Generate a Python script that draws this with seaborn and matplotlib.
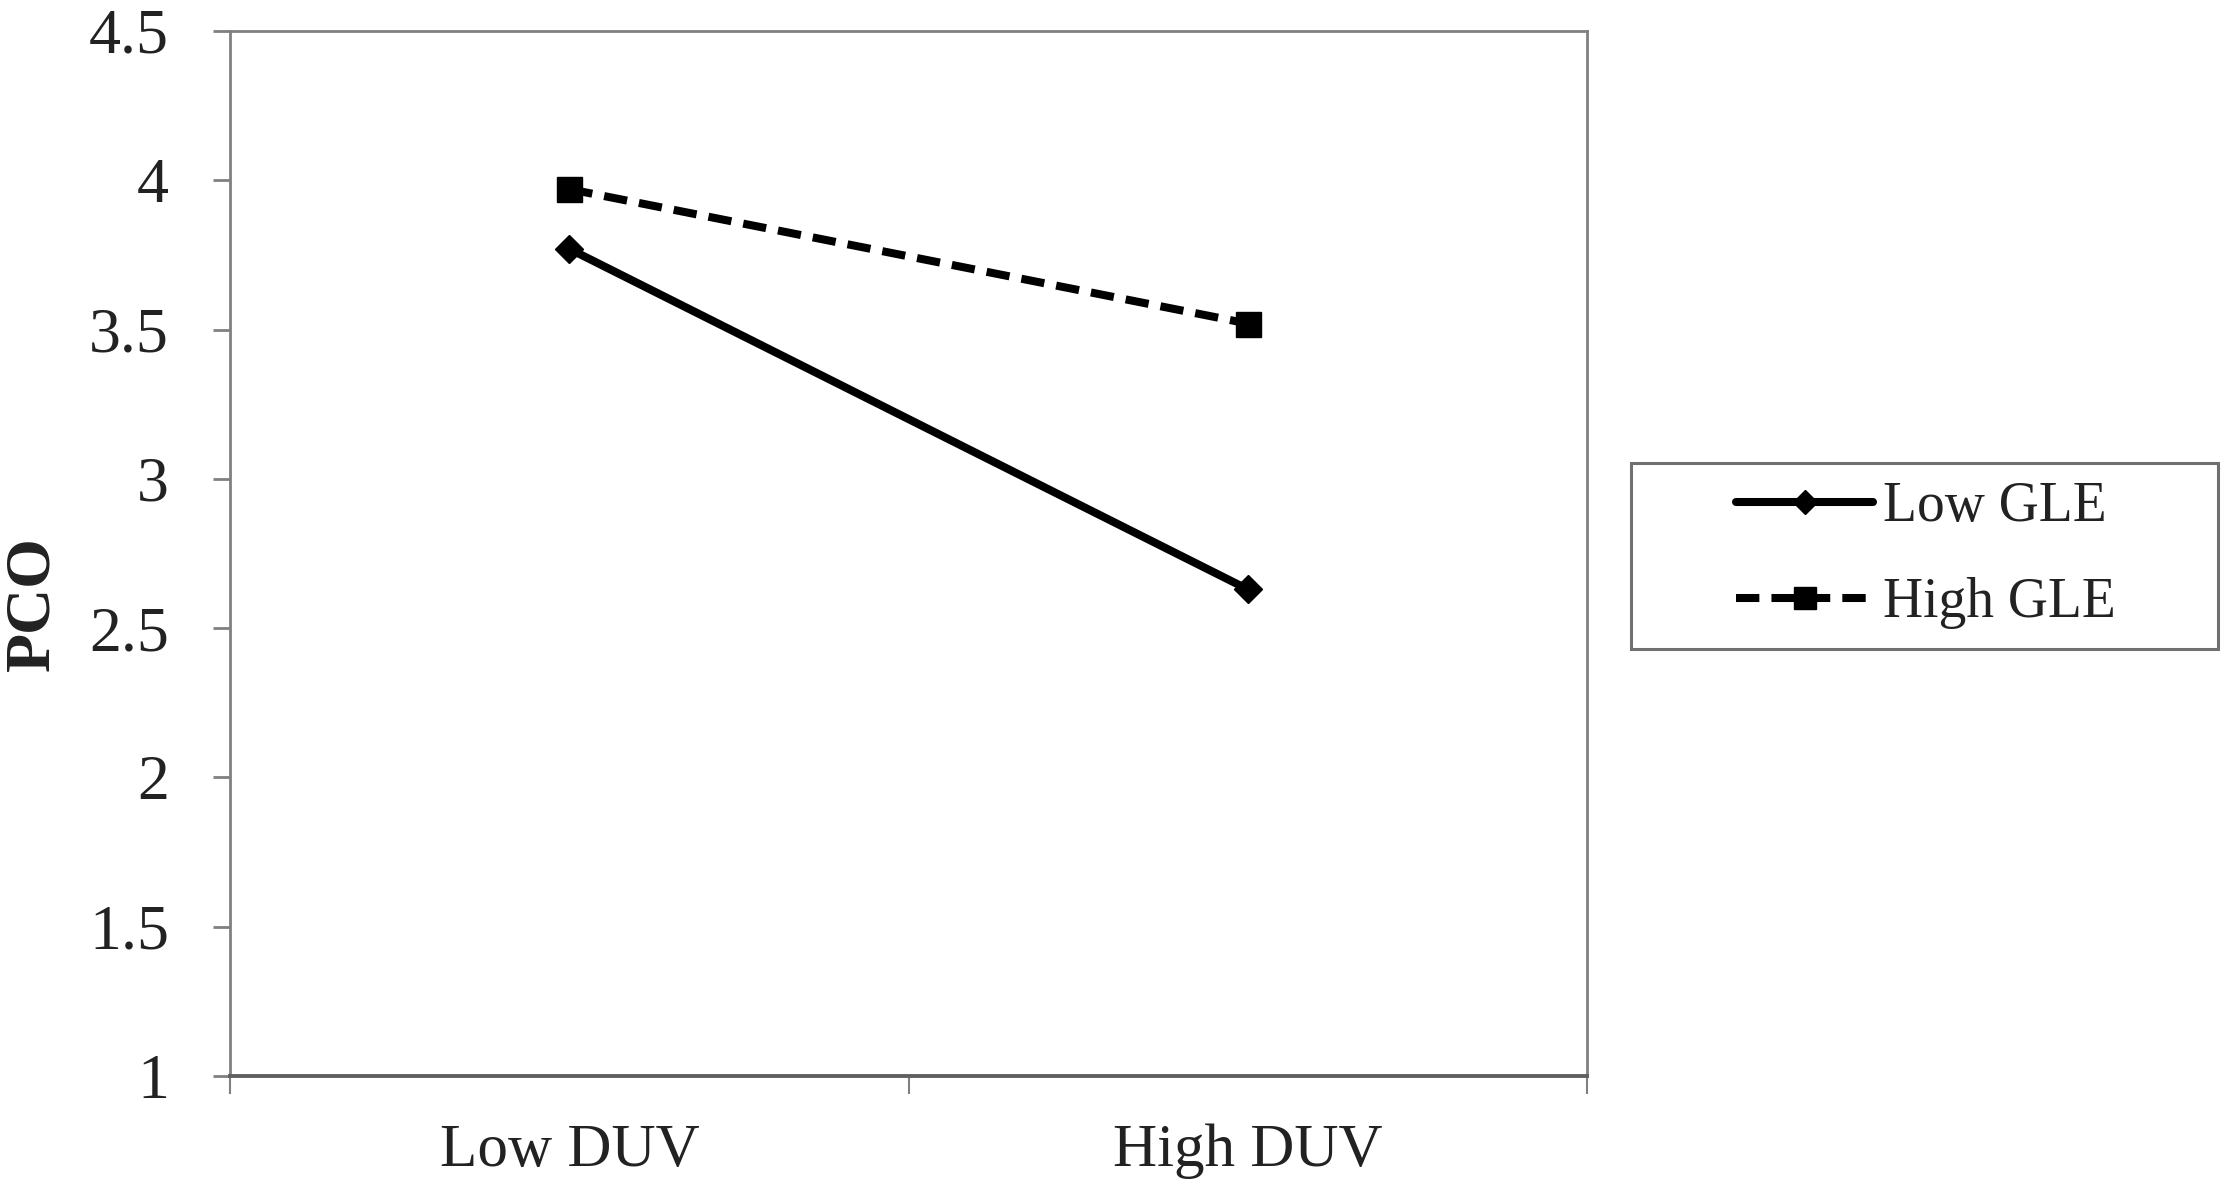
import matplotlib
matplotlib.use("Agg")
import matplotlib.pyplot as plt
from matplotlib.patches import Rectangle
from matplotlib.ticker import FixedLocator
import seaborn as sns
import pandas as pd

# ---- data ----
duv_levels = ["Low DUV", "High DUV"]
gle_groups = ["Low GLE", "High GLE"]
low_gle = [3.77, 2.63]
high_gle = [3.97, 3.52]
y_ticks = [1, 1.5, 2, 2.5, 3, 3.5, 4, 4.5]
y_tick_labels = ["1", "1.5", "2", "2.5", "3", "3.5", "4", "4.5"]

df = pd.DataFrame({
    "DUV": duv_levels * 2,
    "GLE": [gle_groups[0]] * 2 + [gle_groups[1]] * 2,
    "PCO": low_gle + high_gle,
})

sns.set_theme(style="white")
plt.rcParams["font.family"] = ["Liberation Serif", "DejaVu Serif"]

fig = plt.figure(figsize=(22.28, 11.89), dpi=100)
ax = fig.add_axes([0.1033, 0.095, 0.609, 0.879])

sns.lineplot(
    data=df, x="DUV", y="PCO", hue="GLE", style="GLE",
    hue_order=gle_groups, style_order=gle_groups,
    palette={"Low GLE": "black", "High GLE": "black"},
    markers={"Low GLE": "D", "High GLE": "s"},
    dashes={"Low GLE": "", "High GLE": (2.9, 1.5)},
    linewidth=5.8, markeredgecolor="black", markeredgewidth=1,
    ax=ax, legend=True,
)

for ln in ax.lines:
    if ln.get_marker() == "D":
        ln.set_markersize(14)
    elif ln.get_marker() == "s":
        ln.set_markersize(18)

ax.set_xlim(-0.5, 1.5)
ax.set_ylim(1, 4.5)
ax.set_yticks(y_ticks)
ax.set_yticklabels(y_tick_labels)
ax.set_xticks([0, 1])
ax.set_xticklabels(duv_levels)
ax.xaxis.set_minor_locator(FixedLocator([-0.5, 0.5, 1.5]))

ax.tick_params(axis="y", which="major", direction="out", length=12, width=2,
               color="#808080", pad=32, labelsize=46, left=True)
ax.tick_params(axis="x", which="major", length=0, pad=34, labelsize=44, bottom=True)
ax.tick_params(axis="x", which="minor", direction="out", length=13, width=1.5,
               color="#808080", bottom=True)
for lab in ax.get_xticklabels() + ax.get_yticklabels():
    lab.set_color("#222222")

for side, sp in ax.spines.items():
    sp.set_visible(True)
    sp.set_color("#808080")
    sp.set_linewidth(2)
ax.spines["bottom"].set_linewidth(2.8)
ax.spines["bottom"].set_color("#606060")

ax.set_xlabel("")
ax.set_ylabel("PCO", fontsize=46, fontweight="bold", color="#222222", va="center")
ax.yaxis.set_label_coords(-0.145, 0.452)

# legend
handles, labels = ax.get_legend_handles_labels()
ax.get_legend().remove()
leg = fig.legend(handles, labels, loc="center", bbox_to_anchor=(0.8645, 0.533),
                 frameon=False, fontsize=40, handlelength=2.47, handletextpad=0.18,
                 labelspacing=0.8, numpoints=1, borderpad=0)
for t in leg.get_texts():
    t.set_color("#222222")
for h in leg.legend_handles:
    if h.get_marker() == "D":
        h.set_markersize(12)
    elif h.get_marker() == "s":
        h.set_markersize(16)
    h.set_linewidth(5.8)

fig.patches.append(Rectangle((0.732, 0.454), 0.2635, 0.157, transform=fig.transFigure,
                             fill=False, edgecolor="#707070", linewidth=2.2))

fig.savefig("out.png", dpi=100)
